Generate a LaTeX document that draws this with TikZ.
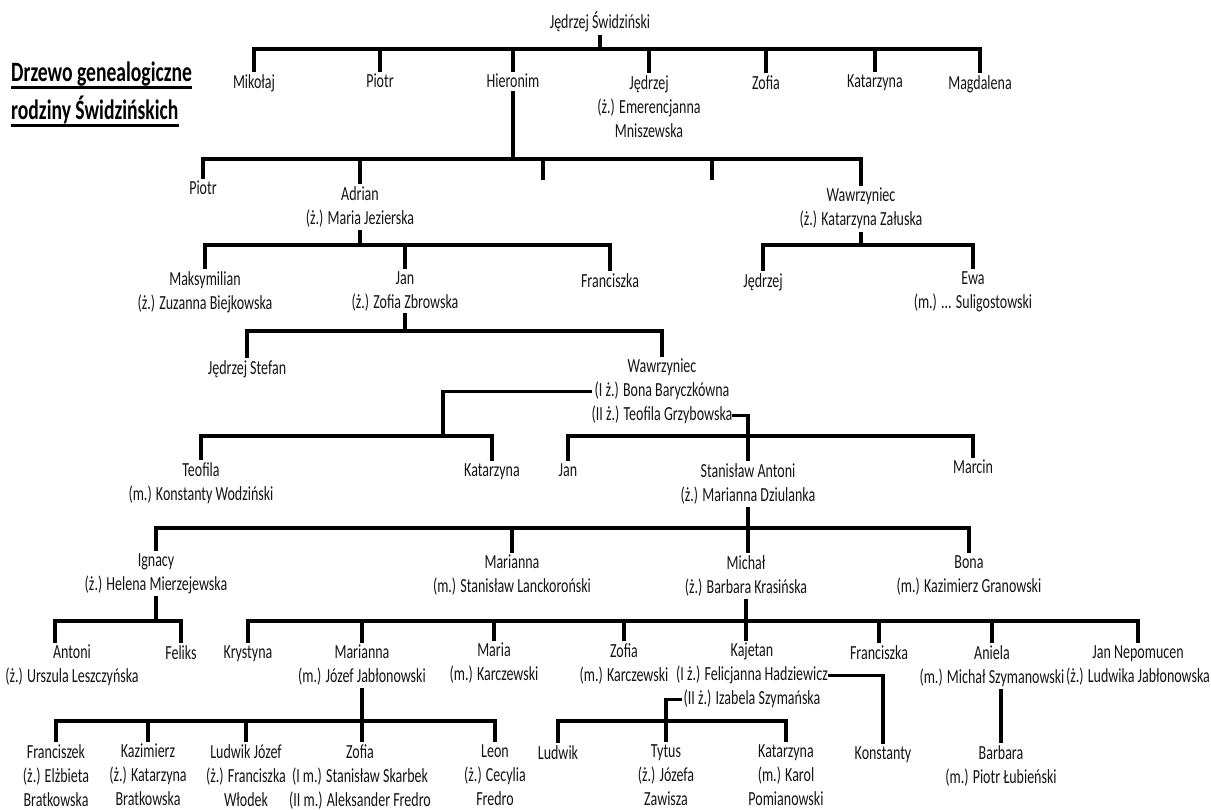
\documentclass[tikz,border=0pt]{standalone}
\usepackage{fontspec}
\setmainfont{Carlito}[FakeStretch=0.7]

\tikzset{
  pers/.style={anchor=north, align=center, inner xsep=1pt, inner ysep=4pt,
    text=black!92, font=\fontsize{20}{24}\selectfont},
  ttl/.style={anchor=base west, inner sep=0pt, text=black,
    font=\fontsize{28}{34}\selectfont\bfseries},
  link/.style={line width=3.1pt, line cap=rect},
  uline/.style={line width=3pt},
}

\begin{document}
\begin{tikzpicture}[x=1pt, y=-1pt]
\useasboundingbox (0,0) rectangle (1211,810);

% title
\node[ttl] (t1) at (11,82) {Drzewo genealogiczne};
\node[ttl] (t2) at (11,120) {rodziny Świdzińskich};
\draw[uline] ([yshift=-5.5pt]t1.base west) -- ([yshift=-5.5pt]t1.base east);
\draw[uline] ([yshift=-5.5pt]t2.base west) -- ([yshift=-5.5pt]t2.base east);

% people
\node[pers] (jsw) at (600,8) {Jędrzej Świdziński};

\node[pers] (mik) at (254,70) {Mikołaj};
\node[pers] (pio1) at (380,70) {Piotr};
\node[pers] (hie) at (513,70) {Hieronim};
\node[pers] (jed1) at (649,71) {Jędrzej\\(ż.) Emerencjanna\\Mniszewska};
\node[pers] (zof1) at (766,71) {Zofia};
\node[pers] (kat1) at (875,70) {Katarzyna};
\node[pers] (mag) at (980,71) {Magdalena};

\node[pers] (pio2) at (203,177) {Piotr};
\node[pers] (adr) at (360,182) {Adrian\\(ż.) Maria Jezierska};
\node[pers] (waw1) at (861,184) {Wawrzyniec\\(ż.) Katarzyna Załuska};
\coordinate (h3) at (543,178);
\coordinate (h4) at (712,178);

\node[pers] (mak) at (205,267) {Maksymilian\\(ż.) Zuzanna Biejkowska};
\node[pers] (jan1) at (405,267) {Jan\\(ż.) Zofia Zbrowska};
\node[pers] (fra1) at (610,269) {Franciszka};
\node[pers] (jed2) at (763,269) {Jędrzej};
\node[pers] (ewa) at (973,267) {Ewa\\(m.) ... Suligostowski};

\node[pers] (jst) at (247,356) {Jędrzej Stefan};
\node[pers] (waw2) at (662,355) {Wawrzyniec\\(I ż.) Bona Baryczkówna\\(II ż.) Teofila Grzybowska};

\node[pers] (teo) at (201,458) {Teofila\\(m.) Konstanty Wodziński};
\node[pers] (kat2) at (492,459) {Katarzyna};
\node[pers] (jan2) at (568,459) {Jan};
\node[pers] (sta) at (748,459) {Stanisław Antoni\\(ż.) Marianna Dziulanka};
\node[pers] (mar) at (973,456) {Marcin};

\node[pers] (ign) at (156,549) {Ignacy\\(ż.) Helena Mierzejewska};
\node[pers] (mari1) at (512,551) {Marianna\\(m.) Stanisław Lanckoroński};
\node[pers] (mic) at (746,551) {Michał\\(ż.) Barbara Krasińska};
\node[pers] (bon) at (969,551) {Bona\\(m.) Kazimierz Granowski};

\node[pers] (ant) at (72,641) {Antoni\\(ż.) Urszula Leszczyńska};
\node[pers] (fel) at (181,641) {Feliks};
\node[pers] (kry) at (248,641) {Krystyna};
\node[pers] (mari2) at (362,641) {Marianna\\(m.) Józef Jabłonowski};
\node[pers] (mria) at (494,639) {Maria\\(m.) Karczewski};
\node[pers] (zof2) at (624,639) {Zofia\\(m.) Karczewski};
\node[pers] (kaj) at (752,639) {Kajetan\\(I ż.) Felicjanna Hadziewicz\\(II ż.) Izabela Szymańska};
\node[pers] (fra2) at (879,641) {Franciszka};
\node[pers] (ani) at (992,641) {Aniela\\(m.) Michał Szymanowski};
\node[pers] (jnp) at (1138,641) {Jan Nepomucen\\(ż.) Ludwika Jabłonowska};

\node[pers] (frk) at (56,740) {Franciszek\\(ż.) Elżbieta\\Bratkowska};
\node[pers] (kaz) at (148,740) {Kazimierz\\(ż.) Katarzyna\\Bratkowska};
\node[pers] (lud1) at (246,740) {Ludwik Józef\\(ż.) Franciszka\\Włodek};
\node[pers] (zof3) at (360,740) {Zofia\\(I m.) Stanisław Skarbek\\(II m.) Aleksander Fredro};
\node[pers] (leo) at (495,740) {Leon\\(ż.) Cecylia\\Fredro};
\node[pers] (lud2) at (558,741) {Ludwik};
\node[pers] (tyt) at (666,740) {Tytus\\(ż.) Józefa\\Zawisza};
\node[pers] (kat3) at (786,740) {Katarzyna\\(m.) Karol\\Pomianowski};
\node[pers] (kon) at (883,742) {Konstanty};
\node[pers] (barb) at (1001,741) {Barbara\\(m.) Piotr Łubieński};

% family bars
\coordinate (b0) at (0,49);
\draw[link] (jsw.south) -- (jsw.south |- b0);
\draw[link] (mik.north |- b0) -- (mag.north |- b0);
\foreach \n in {mik,pio1,hie,jed1,zof1,kat1,mag}
  \draw[link] (\n.north) -- (\n.north |- b0);

\coordinate (b1) at (0,159);
\draw[link] (hie.south) -- (hie.south |- b1);
\draw[link] (pio2.north |- b1) -- (waw1.north |- b1);
\foreach \n in {pio2.north,adr.north,h3,h4,waw1.north}
  \draw[link] (\n) -- (\n |- b1);

\coordinate (b2) at (0,245);
\draw[link] (adr.south) -- (adr.south |- b2);
\draw[link] (mak.north |- b2) -- (fra1.north |- b2);
\foreach \n in {mak,jan1,fra1}
  \draw[link] (\n.north) -- (\n.north |- b2);
\draw[link] (waw1.south) -- (waw1.south |- b2);
\draw[link] (jed2.north |- b2) -- (ewa.north |- b2);
\foreach \n in {jed2,ewa}
  \draw[link] (\n.north) -- (\n.north |- b2);

\coordinate (b3) at (0,331);
\draw[link] (jan1.south) -- (jan1.south |- b3);
\draw[link] (jst.north |- b3) -- (waw2.north |- b3);
\foreach \n in {jst,waw2}
  \draw[link] (\n.north) -- (\n.north |- b3);

\coordinate (b4) at (443,436);
\draw[link] (waw2.west) -| (b4);
\draw[link] (teo.north |- b4) -- (kat2.north |- b4);
\draw[link] ([yshift=-24pt]waw2.east) -| (sta.north);
\draw[link] (jan2.north |- b4) -- (mar.north |- b4);
\foreach \n in {teo,kat2,jan2,mar}
  \draw[link] (\n.north) -- (\n.north |- b4);

\coordinate (b5) at (0,528);
\draw[link] (sta.south) -- (sta.south |- mic.north);
\draw[link] (ign.north |- b5) -- (bon.north |- b5);
\foreach \n in {ign,mari1,bon}
  \draw[link] (\n.north) -- (\n.north |- b5);

\coordinate (b6) at (0,621);
\coordinate (antx) at ([xshift=-17pt]ant.north);
\draw[link] (ign.south) -- (ign.south |- b6);
\draw[link] (antx |- b6) -- (fel.north |- b6);
\foreach \n in {antx,fel.north}
  \draw[link] (\n) -- (\n |- b6);
\draw[link] (mic.south) -- (mic.south |- kaj.north);
\draw[link] (kry.north |- b6) -- (jnp.north |- b6);
\foreach \n in {kry,mari2,mria,zof2,fra2,ani,jnp}
  \draw[link] (\n.north) -- (\n.north |- b6);

\coordinate (b7) at (0,721);
\draw[link] (mari2.south) -- (mari2.south |- zof3.north);
\draw[link] (frk.north |- b7) -- (leo.north |- b7);
\foreach \n in {frk,kaz,lud1,leo}
  \draw[link] (\n.north) -- (\n.north |- b7);
\draw[link] (kaj.east) -| (kon.north);
\coordinate (kaj2) at ([xshift=6pt,yshift=-24pt]kaj.west);
\draw[link] (kaj2) -| (tyt.north);
\draw[link] (lud2.north |- b7) -- (kat3.north |- b7);
\foreach \n in {lud2,kat3}
  \draw[link] (\n.north) -- (\n.north |- b7);
\draw[link] (barb.north) -- (barb.north |- ani.south);

\end{tikzpicture}
\end{document}
